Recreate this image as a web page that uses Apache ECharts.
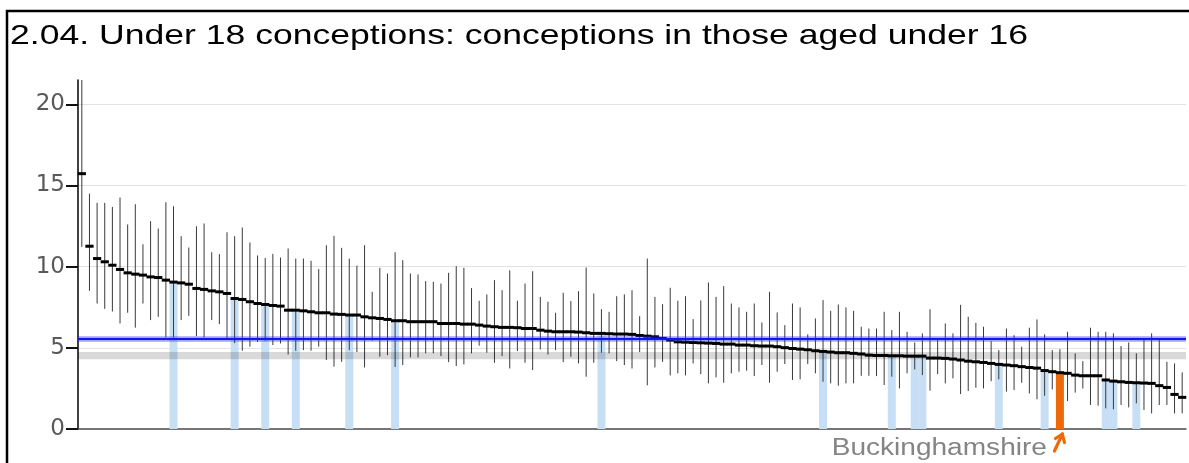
<!DOCTYPE html>
<html>
<head>
<meta charset="utf-8">
<script src="https://cdn.jsdelivr.net/npm/echarts@6/dist/echarts.min.js"></script>
<style>
  html, body { margin: 0; padding: 0; background: #ffffff; }
  #chart { width: 1189px; height: 463px; }
</style>
</head>
<body>
<div id="chart"></div>
<script>
// Indicator 2.04: under-16 conception rate per 1,000 by upper-tier local authority,
// sorted high to low, with 95% confidence intervals.
const titleText = '2.04. Under 18 conceptions: conceptions in those aged under 16';
const yTicks = [0, 5, 10, 15, 20];

const rate = [
  15.73, 11.26, 10.50, 10.30, 10.09, 9.83, 9.62, 9.54, 9.48, 9.37,
  9.33, 9.17, 9.05, 9.00, 8.92, 8.66, 8.60, 8.51, 8.45, 8.35,
  8.04, 7.98, 7.84, 7.73, 7.67, 7.61, 7.57, 7.32, 7.32, 7.28,
  7.22, 7.16, 7.16, 7.08, 7.06, 7.02, 7.02, 6.91, 6.85, 6.81,
  6.75, 6.67, 6.67, 6.61, 6.61, 6.61, 6.61, 6.50, 6.50, 6.50,
  6.46, 6.46, 6.40, 6.34, 6.30, 6.26, 6.26, 6.24, 6.19, 6.19,
  6.09, 6.03, 5.99, 5.99, 5.99, 5.97, 5.93, 5.89, 5.89, 5.87,
  5.85, 5.85, 5.83, 5.76, 5.72, 5.68, 5.58, 5.48, 5.37, 5.35,
  5.33, 5.31, 5.29, 5.27, 5.23, 5.23, 5.17, 5.17, 5.13, 5.11,
  5.11, 5.07, 5.01, 4.96, 4.92, 4.88, 4.82, 4.78, 4.74, 4.70,
  4.70, 4.66, 4.62, 4.55, 4.53, 4.53, 4.51, 4.51, 4.49, 4.49,
  4.49, 4.37, 4.37, 4.35, 4.31, 4.25, 4.18, 4.14, 4.10, 4.04,
  3.98, 3.94, 3.90, 3.84, 3.79, 3.75, 3.60, 3.53, 3.47, 3.43,
  3.32, 3.28, 3.28, 3.28, 3.02, 2.95, 2.91, 2.87, 2.85, 2.83,
  2.81, 2.67, 2.56, 2.13, 1.95
];

const lowerCI = [
  11.22, 8.51, 7.73, 7.40, 7.24, 6.50, 7.16, 6.24, 7.73, 6.71,
  6.91, 5.64, 5.64, 6.71, 6.97, 5.72, 5.64, 6.71, 6.46, 5.52,
  5.29, 4.82, 5.07, 5.37, 5.44, 5.17, 5.27, 4.59, 4.82, 4.86,
  4.82, 5.07, 4.25, 3.84, 4.14, 4.86, 4.74, 3.79, 5.44, 4.45,
  4.55, 3.82, 3.94, 4.41, 4.41, 4.66, 4.66, 4.49, 4.12, 3.88,
  3.98, 4.66, 5.13, 4.70, 4.08, 4.49, 3.73, 4.80, 4.08, 3.63,
  4.90, 4.59, 4.86, 4.12, 4.45, 4.04, 3.22, 4.08, 4.70, 4.66,
  4.18, 3.94, 3.73, 4.74, 2.69, 3.79, 4.14, 3.30, 3.43, 3.30,
  4.04, 3.38, 2.81, 3.18, 2.85, 3.43, 3.53, 3.59, 3.26, 3.94,
  2.85, 3.53, 4.00, 3.02, 3.06, 4.00, 3.43, 2.91, 2.81, 2.67,
  2.81, 2.81, 3.28, 3.28, 3.26, 2.71, 3.22, 2.50, 3.43, 3.67,
  3.32, 2.36, 3.38, 2.81, 3.12, 2.15, 2.34, 2.54, 2.50, 2.95,
  3.06, 2.30, 2.40, 2.85, 2.19, 1.83, 2.05, 2.44, 2.19, 1.72,
  2.24, 2.50, 1.48, 1.44, 1.27, 1.21, 1.48, 1.33, 1.58, 1.17,
  0.96, 1.48, 1.48, 0.96, 0.96
];

const upperCI = [
  21.50, 14.50, 13.93, 13.93, 13.68, 14.26, 12.60, 13.85, 11.38, 12.80,
  12.35, 13.97, 13.72, 11.88, 11.18, 12.49, 12.66, 10.89, 10.77, 12.12,
  11.88, 12.41, 11.49, 10.69, 10.54, 10.79, 10.56, 11.12, 10.50, 10.50,
  10.36, 9.85, 11.32, 11.90, 11.16, 10.50, 10.07, 11.32, 8.45, 9.93,
  9.58, 10.89, 10.40, 9.58, 9.52, 9.11, 9.07, 8.96, 9.62, 10.03,
  9.93, 8.68, 7.90, 8.29, 9.17, 8.55, 9.78, 7.90, 8.96, 9.72,
  8.14, 7.84, 7.16, 8.39, 7.88, 8.49, 9.95, 8.35, 7.38, 7.22,
  8.18, 8.29, 8.55, 6.95, 10.50, 8.14, 7.69, 8.70, 7.90, 8.18,
  6.77, 7.92, 9.03, 8.14, 8.80, 7.73, 7.49, 7.22, 7.73, 6.56,
  8.45, 7.18, 6.40, 7.73, 7.49, 5.83, 6.81, 7.94, 7.28, 7.67,
  7.49, 7.28, 6.30, 6.19, 6.19, 7.22, 6.09, 7.22, 5.99, 5.33,
  5.89, 7.38, 5.60, 6.50, 5.89, 7.65, 6.91, 6.54, 6.30, 5.42,
  4.86, 6.19, 5.78, 5.07, 6.24, 6.75, 5.83, 4.86, 4.92, 5.99,
  4.66, 4.18, 6.24, 5.99, 5.99, 5.89, 5.11, 5.33, 4.66, 5.52,
  5.89, 5.52, 4.14, 4.04, 3.49
];

// Statistical neighbours (light blue) and the selected authority (orange)
const comparatorIdx = [12, 20, 24, 28, 35, 41, 68, 97, 106, 109, 110, 120, 126, 134, 135, 138];
const selectedIdx = 128;
const selectedName = 'Buckinghamshire';

// Benchmarks: England value with its interval, and the regional band
const englandValue = 5.55;
const englandBand = [5.37, 5.72];
const regionBand = [4.30, 4.75];

const areas = rate.map((_, k) => (k === selectedIdx ? selectedName : 'UTLA ' + (k + 1)));

const chart = echarts.init(document.getElementById('chart'), null, { renderer: 'canvas' });

function renderInterval(params, api) {
  const k = api.value(0);
  const lo = api.coord([k, api.value(1)]);
  const hi = api.coord([k, api.value(2)]);
  return {
    type: 'line',
    shape: { x1: lo[0], y1: lo[1], x2: hi[0], y2: hi[1] },
    style: { stroke: '#3a3a3a', lineWidth: 1 }
  };
}

function renderPoint(params, api) {
  const k = api.value(0);
  const c = api.coord([k, api.value(1)]);
  const w = api.size([1, 0])[0];
  return {
    type: 'rect',
    shape: { x: c[0] - w / 2 - 0.3, y: c[1] - 1.5, width: w + 0.6, height: 3 },
    style: { fill: '#000000' }
  };
}

function renderCallout(params, api) {
  const base = api.coord([api.value(0), 0]);
  const x = base[0], y = base[1];
  const orange = '#ec6a0a';
  return {
    type: 'group',
    children: [
      {
        type: 'text',
        x: x - 13, y: y + 20,
        scaleX: 1.22,
        style: {
          text: areas[api.value(0)],
          fill: '#848484',
          font: '23px "Liberation Sans", Arial, sans-serif',
          align: 'right',
          verticalAlign: 'middle'
        }
      },
      {
        type: 'polyline',
        shape: { points: [[x - 5.5, y + 22], [x + 2.5, y + 5]] },
        style: { stroke: orange, lineWidth: 3.2, lineCap: 'round', fill: null }
      },
      {
        type: 'polyline',
        shape: { points: [[x - 4.5, y + 9.5], [x + 2.5, y + 5], [x + 4.5, y + 13.5]] },
        style: { stroke: orange, lineWidth: 3.2, lineCap: 'round', lineJoin: 'round', fill: null }
      }
    ]
  };
}

const option = {
  animation: false,
  backgroundColor: '#ffffff',
  grid: { left: 78, right: 3, top: 80, bottom: 34, containLabel: false },
  graphic: [
    {
      type: 'rect',
      shape: { x: 7, y: 11, width: 1200, height: 470 },
      style: { fill: null, stroke: '#000000', lineWidth: 2.5 },
      silent: true, z: 100
    },
    {
      type: 'text',
      x: 10, y: 36,
      scaleX: 1.27,
      style: {
        text: titleText,
        fill: '#000000',
        font: '28px "Liberation Sans", Arial, sans-serif',
        verticalAlign: 'middle'
      },
      silent: true, z: 100
    }
  ],
  xAxis: {
    type: 'category',
    data: areas,
    boundaryGap: true,
    axisLine: { show: true, lineStyle: { color: '#4a4a4a', width: 1.5 } },
    axisTick: { show: false },
    axisLabel: { show: false },
    splitLine: { show: false }
  },
  yAxis: {
    type: 'value',
    min: 0,
    max: 21.5,
    interval: 5,
    axisLine: { show: true, lineStyle: { color: '#000000', width: 1.5 } },
    axisTick: { show: true, length: 12, customValues: yTicks, lineStyle: { color: '#111111', width: 2 } },
    axisLabel: {
      customValues: yTicks,
      margin: 13,
      color: '#595959',
      fontSize: 23,
      fontFamily: '"DejaVu Sans", sans-serif',
      formatter: (v) => (yTicks.indexOf(v) >= 0 ? String(v) : '')
    },
    splitLine: { show: false }
  },
  series: [
    {
      // horizontal gridlines, kept underneath every mark
      name: 'grid',
      type: 'line',
      data: [],
      silent: true,
      z: 0,
      markLine: {
        silent: true,
        z: 0,
        symbol: ['none', 'none'],
        label: { show: false },
        lineStyle: { color: '#e2e2e2', width: 1, type: 'solid' },
        data: yTicks.filter((t) => t > 0).map((t) => ({ yAxis: t }))
      }
    },
    {
      name: 'Comparators',
      type: 'bar',
      data: rate.map((v, k) => (comparatorIdx.indexOf(k) >= 0 ? v : '-')),
      barWidth: 8,
      barGap: '-100%',
      itemStyle: { color: '#c7dff4' },
      silent: true,
      z: 1
    },
    {
      name: 'Interval',
      type: 'custom',
      data: rate.map((v, k) => [k, lowerCI[k], upperCI[k]]),
      encode: { x: 0, y: [1, 2] },
      renderItem: renderInterval,
      silent: true,
      z: 2
    },
    {
      name: selectedName,
      type: 'bar',
      data: rate.map((v, k) => (k === selectedIdx ? v : '-')),
      barWidth: 8,
      barGap: '-100%',
      itemStyle: { color: '#ec6a0a' },
      silent: true,
      z: 3
    },
    {
      name: 'Rate',
      type: 'custom',
      data: rate.map((v, k) => [k, v]),
      encode: { x: 0, y: 1 },
      renderItem: renderPoint,
      silent: true,
      z: 4
    },
    {
      // benchmark bands drawn over the marks
      name: 'Benchmarks',
      type: 'line',
      data: [],
      silent: true,
      z: 5,
      markArea: {
        silent: true,
        z: 5,
        data: [
          [{ yAxis: regionBand[0], itemStyle: { color: 'rgba(0,0,0,0.15)' } }, { yAxis: regionBand[1] }],
          [{ yAxis: englandBand[0], itemStyle: { color: 'rgba(40,40,255,0.42)' } }, { yAxis: englandBand[1] }]
        ]
      },
      markLine: {
        silent: true,
        z: 6,
        symbol: ['none', 'none'],
        label: { show: false },
        lineStyle: { color: '#1515f0', width: 2, type: 'solid' },
        data: [{ yAxis: englandValue }]
      }
    },
    {
      name: 'Callout',
      type: 'custom',
      data: [[selectedIdx, 0]],
      encode: { x: 0, y: 1 },
      renderItem: renderCallout,
      clip: false,
      silent: true,
      z: 7
    }
  ]
};

chart.setOption(option);
</script>
</body>
</html>
